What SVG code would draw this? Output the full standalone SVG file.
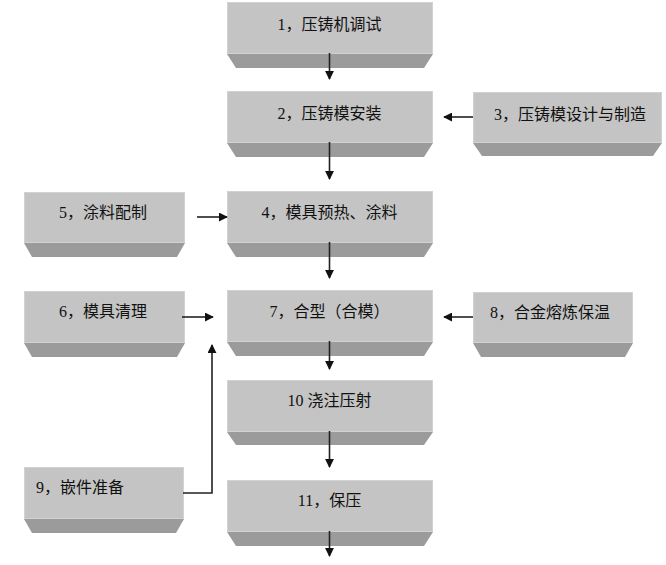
<svg xmlns="http://www.w3.org/2000/svg" width="666" height="565" viewBox="0 0 666 565">
<defs>
<style>
.face{fill:#c4c4c4;stroke:#d2d2d2;stroke-width:1}
.bev{fill:#9b9b9b}
.t{font-family:"Liberation Serif","Noto Sans CJK SC",serif;font-size:16px;fill:#111;dominant-baseline:central}
.c{text-anchor:middle}
.ln{stroke:#222;stroke-width:1.6;fill:none}
</style>
<marker id="ah" viewBox="0 0 10 10" refX="9" refY="5" markerWidth="9" markerHeight="9" markerUnits="userSpaceOnUse" orient="auto">
<path d="M0,0 L10,5 L0,10 Z" fill="#111"/>
</marker>
</defs>
<rect width="666" height="565" fill="#fff"/>
<g id="n1">
<rect class="face" x="227.5" y="2.5" width="205" height="51"/>
<polygon class="bev" points="227,54 433,54 424,68 236,68"/>
<text class="t c" x="329.5" y="24">1，压铸机调试</text>
</g>
<g id="n2">
<rect class="face" x="227.5" y="91.5" width="205" height="51"/>
<polygon class="bev" points="227,143 433,143 424,157 236,157"/>
<text class="t c" x="329.5" y="113">2，压铸模安装</text>
</g>
<g id="n3">
<rect class="face" x="473.5" y="92.5" width="188" height="50"/>
<polygon class="bev" points="473,143 662,143 653,156 482,156"/>
<text class="t c" x="570" y="114">3，压铸模设计与制造</text>
</g>
<g id="n4">
<rect class="face" x="227.5" y="191.5" width="205" height="51"/>
<polygon class="bev" points="227,243 433,243 424,257 236,257"/>
<text class="t c" x="329.5" y="212">4，模具预热、涂料</text>
</g>
<g id="n5">
<rect class="face" x="24.5" y="192.5" width="160" height="50"/>
<polygon class="bev" points="24,243 185,243 177,257 32,257"/>
<text class="t c" x="103" y="212">5，涂料配制</text>
</g>
<g id="n6">
<rect class="face" x="24.5" y="291.5" width="160" height="51"/>
<polygon class="bev" points="24,343 185,343 177,357 32,357"/>
<text class="t c" x="103" y="311">6，模具清理</text>
</g>
<g id="n7">
<rect class="face" x="227.5" y="290.5" width="205" height="51"/>
<polygon class="bev" points="227,342 433,342 424,356 236,356"/>
<text class="t c" x="329.5" y="311">7，合型（合模）</text>
</g>
<g id="n8">
<rect class="face" x="473.5" y="292.5" width="159" height="50"/>
<polygon class="bev" points="473,343 633,343 625,357 481,357"/>
<text class="t c" x="550" y="312">8，合金熔炼保温</text>
</g>
<g id="n10">
<rect class="face" x="227.5" y="380.5" width="205" height="51"/>
<polygon class="bev" points="227,432 433,432 424,445 236,445"/>
<text class="t c" x="329.5" y="400">10 浇注压射</text>
</g>
<g id="n9">
<rect class="face" x="24.5" y="467.5" width="159" height="51"/>
<polygon class="bev" points="24,519 184,519 176,533 32,533"/>
<text class="t" x="36" y="487">9，嵌件准备</text>
</g>
<g id="n11">
<rect class="face" x="227.5" y="480.5" width="205" height="51"/>
<polygon class="bev" points="227,532 433,532 424,546 236,546"/>
<text class="t c" x="329.5" y="500">11，保压</text>
</g>
<g id="connectors">
<line class="ln" x1="329.5" y1="53" x2="329.5" y2="79" marker-end="url(#ah)"/>
<line class="ln" x1="329.5" y1="142" x2="329.5" y2="179" marker-end="url(#ah)"/>
<line class="ln" x1="329.5" y1="242" x2="329.5" y2="278" marker-end="url(#ah)"/>
<line class="ln" x1="329.5" y1="341" x2="329.5" y2="369" marker-end="url(#ah)"/>
<line class="ln" x1="329.5" y1="431" x2="329.5" y2="467" marker-end="url(#ah)"/>
<line class="ln" x1="329.5" y1="531" x2="329.5" y2="556" marker-end="url(#ah)"/>
<line class="ln" x1="473" y1="117" x2="444" y2="117" marker-end="url(#ah)"/>
<line class="ln" x1="197" y1="217" x2="227" y2="217" marker-end="url(#ah)"/>
<line class="ln" x1="182" y1="317" x2="213" y2="317" marker-end="url(#ah)"/>
<line class="ln" x1="473" y1="317" x2="444" y2="317" marker-end="url(#ah)"/>
<polyline class="ln" points="183,493 212,493 212,345" marker-end="url(#ah)"/>
</g>
</svg>
